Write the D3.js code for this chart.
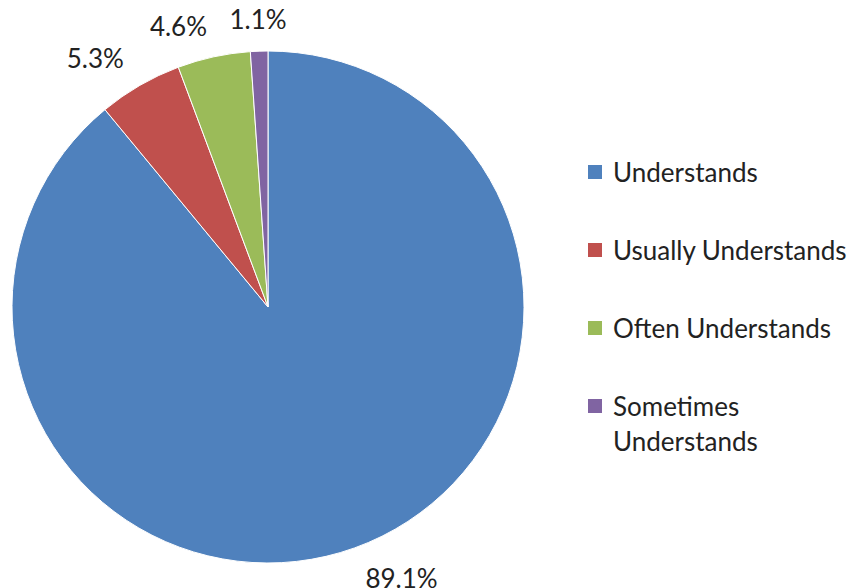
<!DOCTYPE html>
<html>
<head>
<meta charset="utf-8">
<script src="https://cdn.jsdelivr.net/npm/d3@7"></script>
<style>
  html, body { margin: 0; padding: 0; background: #fff; }
  svg { display: block; }
  text { font-family: Lato, "Open Sans", sans-serif; fill: #222; }
</style>
</head>
<body>
<svg id="chart" width="858" height="588"></svg>
<script>
// Share of responses per understanding level
const categories = ["Understands", "Usually Understands", "Often Understands", "Sometimes Understands"];
const legendLines = [["Understands"], ["Usually Understands"], ["Often Understands"], ["Sometimes", "Understands"]];
const values = [89.1, 5.3, 4.6, 1.1];
const colors = ["#4F81BD", "#C0504D", "#9BBB59", "#8064A2"];

const width = 858, height = 588;
const cx = 268, cy = 307, radius = 256;
const labelRadius = radius + 32;

const svg = d3.select("#chart");

const pie = d3.pie().sort(null).value(d => d.value);
const arcs = pie(categories.map((c, i) => ({ name: c, value: values[i], color: colors[i] })));
const arc = d3.arc().innerRadius(0).outerRadius(radius);

const g = svg.append("g").attr("transform", `translate(${cx},${cy})`);

g.selectAll("path.slice")
  .data(arcs)
  .join("path")
  .attr("class", "slice")
  .attr("d", arc)
  .attr("fill", d => d.data.color)
  .attr("stroke", "#fff")
  .attr("stroke-width", 1);

// Percentage labels outside each slice
g.selectAll("text.pct")
  .data(arcs)
  .join("text")
  .attr("class", "pct")
  .each(function(d) {
    const a = (d.startAngle + d.endAngle) / 2;
    const s = Math.sin(a), c = Math.cos(a);
    const anchor = Math.abs(s) < 0.1 ? "middle" : (s > 0 ? "start" : "end");
    d3.select(this)
      .attr("x", labelRadius * s)
      .attr("y", -labelRadius * c)
      .attr("text-anchor", anchor)
      .attr("dominant-baseline", "central");
  })
  .attr("font-size", 26)
  .text(d => d3.format(".1f")(d.data.value) + "%");

// Legend
const legendX = 588, legendTop = 172, rowGap = 78, lineH = 35;
const legend = svg.append("g");
legendLines.forEach((lines, i) => {
  const y = legendTop + i * rowGap;
  legend.append("rect")
    .attr("x", legendX).attr("y", y - 7)
    .attr("width", 14).attr("height", 14)
    .attr("fill", colors[i]);
  const t = legend.append("text")
    .attr("x", legendX + 25)
    .attr("y", y)
    .attr("dominant-baseline", "central")
    .attr("font-size", 26);
  lines.forEach((ln, j) => {
    t.append("tspan").attr("x", legendX + 25).attr("y", y + j * lineH).text(ln);
  });
});
</script>
</body>
</html>
